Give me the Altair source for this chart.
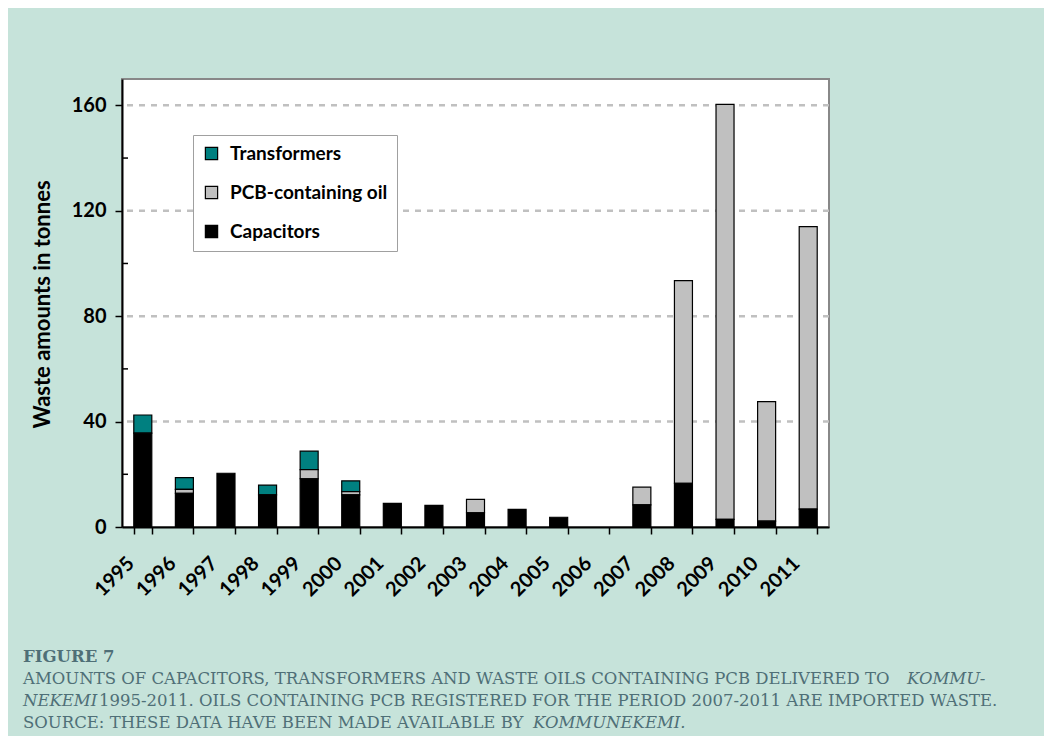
import altair as alt
import pandas as pd

# ---------------- data ----------------
years = ["1995", "1996", "1997", "1998", "1999", "2000", "2001", "2002", "2003",
         "2004", "2005", "2006", "2007", "2008", "2009", "2010", "2011"]
capacitors = [35.6, 12.8, 20.4, 12.2, 18.3, 12.2, 9.0, 8.2, 5.4, 6.7, 3.7, 0.0,
              8.4, 16.6, 2.9, 2.2, 6.8]
pcb_oil = [0.0, 1.5, 0.0, 0.0, 3.5, 1.2, 0.0, 0.0, 5.1, 0.0, 0.0, 0.0,
           6.7, 76.9, 157.5, 45.4, 107.2]
transformers = [6.9, 4.4, 0.0, 3.7, 7.0, 4.1, 0.0, 0.0, 0.0, 0.0, 0.0, 0.0,
                0.0, 0.0, 0.0, 0.0, 0.0]

series_names = ["Transformers", "PCB-containing oil", "Capacitors"]
series_colors = ["#008080", "#c0c0c0", "#000000"]
stack_rank = [2, 1, 0]

y_major = [0, 40, 80, 120, 160]
y_grid = [40, 80, 120, 160]
y_minor = [20, 60, 100, 140]

y_title = "Waste amounts in tonnes"
caption_head = "FIGURE 7"
caption_1a = "AMOUNTS OF CAPACITORS, TRANSFORMERS AND WASTE OILS CONTAINING PCB DELIVERED TO"
caption_1b = "KOMMU-"
caption_2a = "NEKEMI"
caption_2b = "1995-2011. OILS CONTAINING PCB REGISTERED FOR THE PERIOD 2007-2011 ARE IMPORTED WASTE."
caption_3a = "SOURCE: THESE DATA HAVE BEEN MADE AVAILABLE BY"
caption_3b = "KOMMUNEKEMI."

# ---------------- table ----------------
series_values = {"Capacitors": capacitors, "PCB-containing oil": pcb_oil,
                 "Transformers": transformers}
rows = []
for i, yr in enumerate(years):
    for name, rank in zip(series_names, stack_rank):
        v = series_values[name][i]
        if v > 0:
            rows.append({"year": yr, "series": name, "value": v, "rank": rank})
df = pd.DataFrame(rows)

W, H = 707, 448
FONT = "Lato"
CAP_FONT = "DejaVu Serif"
CAP_COLOR = "#4f6f77"
CAP_SIZE = 16.5

x_scale = alt.Scale(domain=years, paddingInner=0.567, paddingOuter=0.2835)
y_scale = alt.Scale(domain=[0, 170], nice=False, zero=True)

y_axis = alt.Axis(values=y_major, title=y_title, grid=False, tickSize=7,
                  tickColor="black", tickWidth=1.5, domainColor="black",
                  domainWidth=2, labelFont=FONT, labelFontWeight="bold",
                  labelFontSize=20, labelColor="black", labelPadding=9,
                  titleFont=FONT, titleFontWeight="bold", titleFontSize=22,
                  titleColor="black", titleX=-80, titleY=225, titleAngle=-90,
                  titleBaseline="middle", titleAlign="center", zindex=1)

grid = alt.Chart(pd.DataFrame({"v": y_grid})).mark_rule(
    color="#c0c0c0", strokeWidth=2.5, strokeDash=[6, 6]
).encode(y=alt.Y("v:Q", scale=y_scale, axis=y_axis))

bars = alt.Chart(df).mark_bar(stroke="black", strokeWidth=1.2).encode(
    x=alt.X("year:N", scale=x_scale, sort=years,
            axis=alt.Axis(title=None, labelAngle=-45, labelAlign="right",
                          labelBaseline="middle", tickBand="extent", tickSize=7,
                          tickColor="black", tickWidth=1.5, domainColor="black",
                          domainWidth=2, labelFont=FONT, labelFontWeight="bold",
                          labelFontSize=20, labelColor="black", labelPadding=26,
                          labelOffset=-12, zindex=1)),
    y=alt.Y("value:Q", scale=y_scale, axis=y_axis, stack="zero"),
    color=alt.Color("series:N",
                    scale=alt.Scale(domain=series_names, range=series_colors),
                    legend=alt.Legend(orient="none", legendX=71, legendY=56,
                                      title=None, symbolType="square",
                                      symbolSize=150, symbolStrokeColor="black",
                                      symbolStrokeWidth=1.2, labelFont=FONT,
                                      labelFontWeight="bold", labelFontSize=19,
                                      labelColor="black", labelOffset=9,
                                      rowPadding=19, padding=9,
                                      strokeColor="#a0a0a0", fillColor="white",
                                      labelLimit=400)),
    order=alt.Order("rank:Q", sort="ascending"),
)

minor = alt.Chart(pd.DataFrame({"v": y_minor})).mark_rule(
    color="black", strokeWidth=1.5
).encode(y=alt.Y("v:Q", scale=y_scale, axis=y_axis),
         x=alt.value(0), x2=alt.value(6))

def cap_text(txt, x, y, italic=False, bold=False, size=CAP_SIZE):
    return alt.Chart(pd.DataFrame({"t": [txt]})).mark_text(
        font=CAP_FONT, fontSize=size, color=CAP_COLOR, align="left",
        baseline="alphabetic", fontStyle="italic" if italic else "normal",
        fontWeight="bold" if bold else "normal"
    ).encode(text="t:N", x=alt.value(x), y=alt.value(y))

captions = [
    cap_text(caption_head, -99, 583, bold=True),
    cap_text(caption_1a, -99, 605),
    cap_text(caption_1b, 785, 605, italic=True),
    cap_text(caption_2a, -99, 627, italic=True),
    cap_text(caption_2b, -23, 627),
    cap_text(caption_3a, -99, 649),
    cap_text(caption_3b, 411, 649, italic=True),
]

chart = alt.layer(grid, bars, minor, *captions).properties(
    width=W, height=H,
    autosize=alt.AutoSizeParams(type="none"),
    padding={"left": 114, "top": 71, "right": 215, "bottom": 209},
).configure(background="#c6e3da").configure_view(stroke="#888888", strokeWidth=2, fill="white")

chart.save("out.html", embed_options={"renderer": "svg", "actions": False})
